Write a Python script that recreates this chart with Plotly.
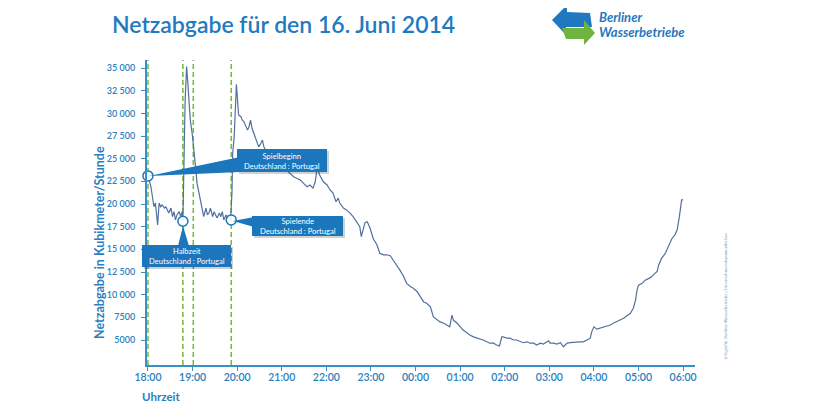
import plotly.graph_objects as go

# ---------------- data ----------------
minutes_after_18 = [
    0, 4, 6, 8, 10, 13, 15, 17, 19, 22,
    24, 26, 28, 31, 33, 35, 37, 39, 42, 44,
    46, 47, 49, 50, 52, 53, 54, 56, 57, 60,
    62, 64, 66, 69, 71, 73, 75, 78, 80, 82,
    84, 87, 89, 91, 93, 96, 98, 100, 102, 105,
    107, 109, 111, 113, 114, 116, 118, 119, 120, 122,
    125, 127, 129, 131, 134, 136, 138, 140, 143, 145,
    147, 149, 152, 154, 156, 158, 161, 167, 174, 180,
    187, 191, 196, 200, 205, 209, 214, 218, 222, 225,
    227, 229, 231, 236, 241, 245, 249, 253, 256, 258,
    263, 267, 272, 276, 281, 285, 287, 292, 295, 299,
    303, 308, 312, 317, 321, 326, 330, 335, 339, 344,
    348, 353, 357, 362, 366, 371, 375, 380, 384, 389,
    393, 398, 402, 406, 409, 411, 416, 420, 424, 429,
    433, 438, 442, 447, 451, 456, 460, 465, 469, 473,
    476, 478, 483, 487, 492, 496, 501, 505, 510, 514,
    519, 523, 528, 532, 537, 539, 541, 546, 550, 555,
    559, 564, 568, 572, 577, 581, 586, 590, 595, 597,
    600, 604, 608, 613, 617, 622, 626, 631, 635, 640,
    644, 649, 653, 656, 658, 660, 665, 669, 674, 678,
    682, 685, 687, 691, 696, 700, 705, 709, 712, 715,
    718, 720,
]
netzabgabe = [
    23100, 21900, 20800, 19700, 20100, 17700, 20100, 19700, 19900, 19550,
    19700, 19350, 19000, 19550, 18600, 19150, 18250, 18800, 19150, 18600,
    19150, 18100, 27050, 31450, 35150, 34400, 32950, 30350, 29250, 27400,
    25950, 24100, 22300, 21000, 20100, 19350, 18600, 19550, 18800, 19000,
    19550, 18600, 19150, 18800, 18450, 19000, 18600, 19150, 18250, 18800,
    18450, 18600, 18200, 21200, 25600, 27400, 31450, 33200, 32000, 29800,
    29650, 29250, 29100, 28700, 28150, 28550, 29250, 28350, 27600, 27250,
    26850, 26300, 26700, 27050, 26300, 25950, 25750, 25300, 24850, 24200,
    23650, 23400, 23000, 22850, 22650, 22300, 21900, 22100, 21750, 22450,
    23550, 23750, 23200, 22450, 22100, 21550, 21200, 20250, 20650, 20100,
    19550, 19350, 19000, 18600, 18050, 17500, 16400, 17950, 18050, 17300,
    16200, 15500, 14550, 14400, 14400, 14300, 13800, 13250, 12700, 12000,
    11250, 10900, 10700, 10350, 9800, 9200, 9050, 8650, 7550, 7200,
    7000, 6850, 6650, 6450, 7750, 7200, 6850, 6450, 6100, 5800,
    5550, 5350, 5250, 5100, 5000, 4800, 4650, 4650, 4450, 4350,
    5350, 5350, 5200, 5200, 5000, 5000, 4800, 4700, 4800, 4650,
    4650, 4450, 4650, 4550, 4800, 4900, 4650, 4650, 4550, 4700,
    4250, 4650, 4700, 4750, 4750, 4800, 4800, 5000, 5200, 5900,
    6450, 6200, 6300, 6450, 6550, 6650, 6850, 7000, 7200, 7400,
    7650, 7950, 8500, 9400, 10500, 11050, 11250, 11600, 11800, 12000,
    12350, 12550, 13250, 14000, 14550, 15300, 16200, 16600, 17150, 18600,
    20450, 20450,
]

x_tick_vals = [0, 60, 120, 180, 240, 300, 360, 420, 480, 540, 600, 660, 720]
x_tick_text = ["18:00", "19:00", "20:00", "21:00", "22:00", "23:00", "00:00",
               "01:00", "02:00", "03:00", "04:00", "05:00", "06:00"]
y_tick_vals = [5000, 7500, 10000, 12500, 15000, 17500, 20000, 22500,
               25000, 27500, 30000, 32500, 35000]
y_tick_text = ["5000", "7500", "10 000", "12 500", "15 000", "17 500",
               "20 000", "22 500", "25 000", "27 500", "30 000",
               "32 500", "35 000"]

# match events (minutes after 18:00): kick-off, half-time start, half-time end, final whistle
event_minutes = [0, 47, 61, 112]
marker_minutes = [0, 47, 112]
marker_values = [23100, 18100, 18250]
marker_titles = ["Spielbeginn", "Halbzeit", "Spielende"]
match_label = "Deutschland : Portugal"

# ---------------- style ----------------
BLUE = "#1b76bc"
AXIS_BLUE = "#3b8fc8"
LINE = "#52709f"
GREEN = "#74b843"
FONT = "Lato"

PAGE_OFF = 8                      # default body margin of the html page
W, H = 820 - PAGE_OFF, 407 - PAGE_OFF
L, R, T, B = 147, 695, 60, 365     # plot area in screen pixels


def px(x):
    return (x - L) / (R - L)


def py(y):
    return (B - y) / (B - T)


fig = go.Figure()

fig.add_trace(go.Scatter(
    x=minutes_after_18, y=netzabgabe, mode="lines",
    line=dict(color=LINE, width=1.2), hoverinfo="skip", showlegend=False,
))

shapes = []
for m in event_minutes:
    shapes.append(dict(type="line", xref="x", yref="paper", x0=m, x1=m, y0=0, y1=1,
                       line=dict(color=GREEN, width=1.5, dash="5px,3px"), layer="below"))


def poly(points):
    p = ["%s%.5f,%.5f" % ("M" if i == 0 else "L", px(a), py(b)) for i, (a, b) in enumerate(points)]
    return " ".join(p) + " Z"


# callout boxes (pixel geometry of the decoration) : (x0, y0, x1, y1), wedge
callouts = [
    ((237, 149, 327, 172), [(149, 176), (240, 157), (240, 172)]),
    ((142, 245, 231, 267), [(183, 226), (178, 246), (189, 246)]),
    ((252, 216, 343, 236), [(233, 221), (254, 217), (254, 227)]),
]
annotations = []
for (box, wedge), title in zip(callouts, marker_titles):
    x0, y0, x1, y1 = box
    shapes.append(dict(type="rect", xref="paper", yref="paper",
                       x0=px(x0 + 2), x1=px(x1 + 2), y0=py(y0 + 2), y1=py(y1 + 2),
                       fillcolor="rgba(0,0,0,0.18)", line=dict(width=0)))
    shapes.append(dict(type="rect", xref="paper", yref="paper",
                       x0=px(x0), x1=px(x1), y0=py(y0), y1=py(y1),
                       fillcolor=BLUE, line=dict(width=0)))
    shapes.append(dict(type="path", xref="paper", yref="paper", path=poly(wedge),
                       fillcolor=BLUE, line=dict(width=0)))
    annotations.append(dict(xref="paper", yref="paper", x=px((x0 + x1) / 2), y=py((y0 + y1) / 2),
                            text=title + "<br>" + match_label, showarrow=False,
                            font=dict(family=FONT, size=7.6, color="white"),
                            xanchor="center", yanchor="middle", align="center"))

fig.add_trace(go.Scatter(
    x=marker_minutes, y=marker_values, mode="markers",
    marker=dict(size=10, color="rgba(255,255,255,0.9)", line=dict(color=BLUE, width=1.5)),
    hoverinfo="skip", showlegend=False, cliponaxis=False,
))

# logo arrows
blue_arrow = [(552, 20), (567, 5), (567, 12), (590, 13), (592, 27), (566, 27), (565, 34)]
green_arrow = [(562, 28), (584, 28), (584, 20), (595, 33), (584, 45), (584, 39), (566, 39)]

shapes.append(dict(type="path", xref="paper", yref="paper", path=poly(blue_arrow),
                   fillcolor="#1f78c0", line=dict(width=0)))
shapes.append(dict(type="path", xref="paper", yref="paper", path=poly(green_arrow),
                   fillcolor="#6fb43f", line=dict(width=0)))

annotations += [
    dict(xref="paper", yref="paper", x=px(110), y=py(24), xanchor="left", yanchor="middle",
         text="Netzabgabe für den 16. Juni 2014", showarrow=False,
         font=dict(family=FONT, size=23, color="#1f7bbf", weight=600)),
    dict(xref="paper", yref="paper", x=px(597), y=py(17), xanchor="left", yanchor="middle",
         text="<b><i>Berliner</i></b>", showarrow=False,
         font=dict(family=FONT, size=13, color="#1f78c0")),
    dict(xref="paper", yref="paper", x=px(597), y=py(32), xanchor="left", yanchor="middle",
         text="<b><i>Wasserbetriebe</i></b>", showarrow=False,
         font=dict(family=FONT, size=13, color="#1f78c0")),
    dict(xref="paper", yref="paper", x=px(99), y=py(243), xanchor="center", yanchor="middle",
         text="<b>Netzabgabe in Kubikmeter/Stunde</b>", showarrow=False, textangle=-90,
         font=dict(family=FONT, size=12.5, color="#2a7fc0")),
    dict(xref="paper", yref="paper", x=px(140), y=py(396), xanchor="left", yanchor="middle",
         text="<b>Uhrzeit</b>", showarrow=False,
         font=dict(family=FONT, size=11.5, color="#2a7fc0")),
    dict(xref="paper", yref="paper", x=px(725), y=py(296), xanchor="center", yanchor="middle",
         text="Infografik: Berliner Wasserbetriebe | Unternehmenskommunikation", showarrow=False,
         textangle=-90, font=dict(family=FONT, size=4.3, color="#6aa6d6")),
]

fig.update_layout(
    width=W, height=H,
    margin=dict(l=L - PAGE_OFF, r=820 - R, t=T - PAGE_OFF, b=407 - B, pad=0),
    paper_bgcolor="white", plot_bgcolor="white",
    showlegend=False,
    shapes=shapes, annotations=annotations,
    xaxis=dict(range=[-1.3, 736], tickmode="array", tickvals=x_tick_vals, ticktext=x_tick_text,
               showgrid=False, zeroline=False, showline=True, linecolor=AXIS_BLUE, linewidth=2,
               ticks="outside", ticklen=4, tickwidth=1.2, tickcolor=AXIS_BLUE,
               ticklabelstandoff=-3,
               tickfont=dict(family=FONT, size=10.5, color="#2a7fc0", weight=600)),
    yaxis=dict(range=[2243, 35884], tickmode="array", tickvals=y_tick_vals, ticktext=y_tick_text,
               showgrid=False, zeroline=False, showline=True, linecolor=AXIS_BLUE, linewidth=2,
               ticks="outside", ticklen=4, tickwidth=1.2, tickcolor=AXIS_BLUE,
               ticklabelstandoff=4,
               tickfont=dict(family=FONT, size=9, color="#2a7fc0", weight=600)),
)

fig.write_html("out.html")
